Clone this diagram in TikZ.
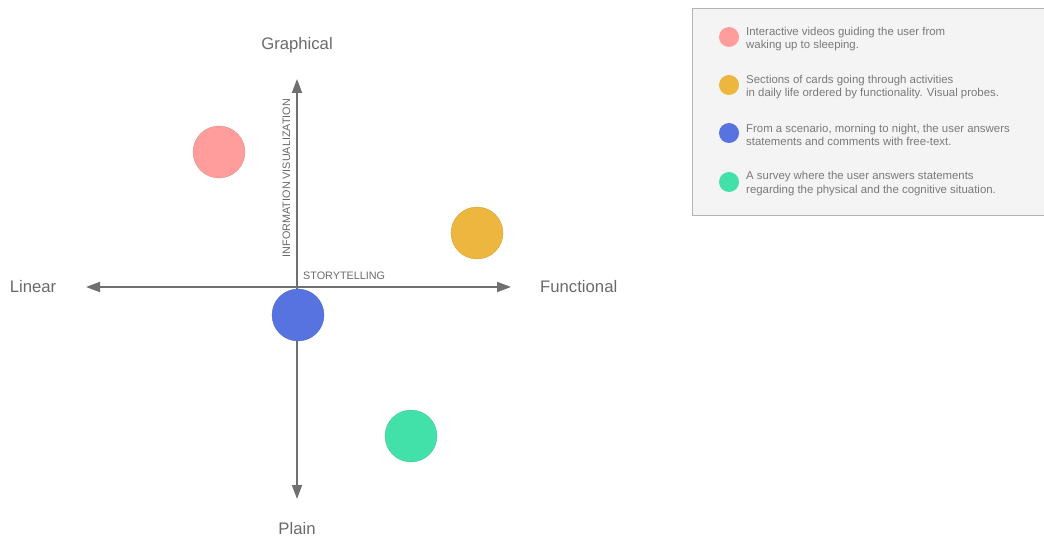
\documentclass[tikz,border=0pt]{standalone}
\usepackage{fontspec}
\setmainfont{Liberation Sans}
\usetikzlibrary{arrows.meta}
\definecolor{axisgray}{HTML}{707070}
\definecolor{labelgray}{HTML}{6A6A6A}
\definecolor{legendtext}{HTML}{7A7A7A}
\definecolor{legendfill}{HTML}{F4F4F4}
\definecolor{legendedge}{HTML}{B4B4B4}
\definecolor{cred}{HTML}{FF9C9C}
\definecolor{cyellow}{HTML}{EDB63E}
\definecolor{cblue}{HTML}{5673DF}
\definecolor{cgreen}{HTML}{42E1A9}
\tikzset{
  axis/.style={draw=axisgray, line width=2pt, -{Triangle[length=14pt,width=10pt]}},
  dot/.style={circle, inner sep=0pt, minimum size=52pt, draw=#1!85!black, line width=0.3pt, fill=#1},
  ldot/.style={circle, inner sep=0pt, minimum size=20pt, fill=#1},
  polelabel/.style={font=\fontsize{16.7}{20}\selectfont, text=labelgray, inner sep=0pt},
  axistitle/.style={font=\fontsize{10.8}{12}\selectfont, text=labelgray, inner sep=0pt},
  legendtxt/.style={font=\fontsize{11.4}{13.5}\selectfont, text=legendtext, inner sep=0pt, anchor=west, align=left},
}
\begin{document}
\begin{tikzpicture}[x=1pt,y=-1pt]
\useasboundingbox (0,0) rectangle (1044,537);

% axes
\coordinate (origin) at (297,287);
\coordinate (left) at (86,287);
\coordinate (right) at (511,287);
\coordinate (top) at (297,79);
\coordinate (bottom) at (297,499);
\draw[axis] (origin) -- (left);
\draw[axis] (origin) -- (right);
\draw[axis] (origin) -- (top);
\draw[axis] (origin) -- (bottom);

% pole labels
\node[polelabel, anchor=base] (graphical) at (297,50) {Graphical};
\node[polelabel, anchor=base] (plain) at (297,534.5) {Plain};
\node[polelabel, anchor=base] (linear) at (33,293) {Linear};
\node[polelabel, anchor=base west] (functional) at (540,293) {Functional};

% axis titles
\node[axistitle, anchor=base west] (story) at (303,280) {STORYTELLING};
\node[axistitle, anchor=base, rotate=90] (infovis) at (290,178) {INFORMATION VISUALIZATION};

% methods
\node[dot=cred] (video) at (219,152) {};
\node[dot=cyellow] (cards) at (477,233) {};
\node[dot=cblue] (scenario) at (298,315) {};
\node[dot=cgreen] (survey) at (411,436) {};

% legend
\draw[draw=legendedge, fill=legendfill, line width=1pt] (692.5,8.5) rectangle (1050,216);
\node[ldot=cred] (l1) at (729,37) {};
\node[ldot=cyellow] (l2) at (729,85) {};
\node[ldot=cblue] (l3) at (729,133) {};
\node[ldot=cgreen] (l4) at (729,182) {};
\node[legendtxt] (t1) at (746,39) {Interactive videos guiding the user from\\waking up to sleeping.};
\node[legendtxt] (t2) at (746,87) {Sections of cards going through activities\\in daily life ordered by functionality. Visual probes.};
\node[legendtxt] (t3) at (746,135) {From a scenario, morning to night, the user answers\\statements and comments with free-text.};
\node[legendtxt] (t4) at (746,183.5) {A survey where the user answers statements\\regarding the physical and the cognitive situation.};
\end{tikzpicture}
\end{document}
